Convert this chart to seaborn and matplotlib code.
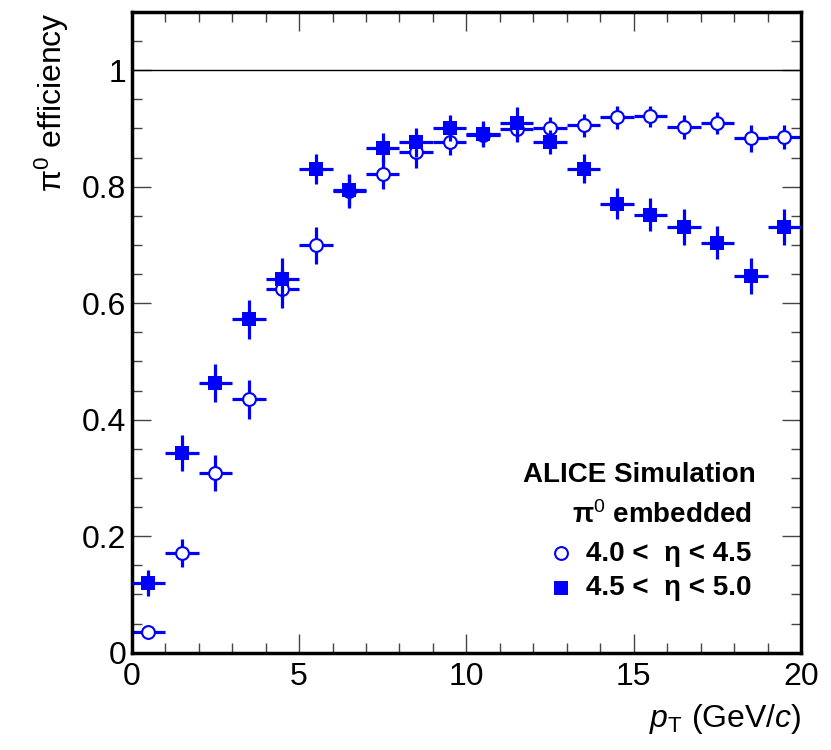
import numpy as np
import pandas as pd
import matplotlib
matplotlib.use("Agg")
import matplotlib.pyplot as plt
import seaborn as sns
from matplotlib.ticker import MultipleLocator

# bin centres (GeV/c), bin half width is 0.5
pt = [0.5, 1.5, 2.5, 3.5, 4.5, 5.5, 6.5, 7.5, 8.5, 9.5,
      10.5, 11.5, 12.5, 13.5, 14.5, 15.5, 16.5, 17.5, 18.5, 19.5]
pt_err = [0.5] * 20

# 4.0 < eta < 4.5 (open circles)
eff_low = [0.036, 0.171, 0.308, 0.435, 0.625, 0.699, 0.792, 0.822, 0.859, 0.876,
           0.889, 0.899, 0.900, 0.905, 0.919, 0.921, 0.902, 0.909, 0.883, 0.885]
err_low = [0.010, 0.024, 0.031, 0.033, 0.033, 0.031, 0.028, 0.026, 0.027, 0.022,
           0.020, 0.022, 0.020, 0.020, 0.020, 0.018, 0.021, 0.019, 0.023, 0.020]

# 4.5 < eta < 5.0 (filled squares)
eff_high = [0.120, 0.343, 0.463, 0.572, 0.642, 0.830, 0.794, 0.867, 0.876, 0.901,
            0.890, 0.910, 0.877, 0.831, 0.771, 0.752, 0.730, 0.704, 0.646, 0.731]
err_high = [0.022, 0.031, 0.033, 0.034, 0.035, 0.026, 0.028, 0.025, 0.025, 0.022,
            0.022, 0.026, 0.021, 0.025, 0.027, 0.029, 0.031, 0.029, 0.031, 0.031]

df = pd.DataFrame({"pt": pt, "low": eff_low, "high": eff_high})

sns.set_style("ticks")
plt.rcParams['font.family'] = ['Liberation Sans', 'DejaVu Sans']
plt.rcParams['mathtext.fontset'] = 'custom'
plt.rcParams['mathtext.rm'] = 'Liberation Sans'
plt.rcParams['mathtext.it'] = 'Liberation Sans:italic'
plt.rcParams['mathtext.bf'] = 'Liberation Sans:bold'
plt.rcParams['text.color'] = 'black'
plt.rcParams['axes.labelcolor'] = 'black'
plt.rcParams['xtick.color'] = '#444444'
plt.rcParams['ytick.color'] = '#444444'
plt.rcParams['xtick.labelcolor'] = 'black'
plt.rcParams['ytick.labelcolor'] = 'black'

blue = (0, 0, 1)

fig = plt.figure(figsize=(8.31, 7.5), dpi=100)
ax = fig.add_axes([0.1585, 0.1297, 0.8055, 0.8545])

ax.axhline(1.0, color='black', lw=1.0, zorder=1)

# open circles first, filled squares on top
ax.errorbar(pt, eff_low, xerr=pt_err, yerr=err_low, fmt='none',
            ecolor=blue, elinewidth=2.3, capsize=0, zorder=2)
sns.scatterplot(data=df, x="pt", y="low", ax=ax, marker='o', s=85,
                facecolor='white', edgecolor=blue, linewidth=1.5, zorder=3,
                label="4.0 <  η < 4.5")
ax.errorbar(pt, eff_high, xerr=pt_err, yerr=err_high, fmt='none',
            ecolor=blue, elinewidth=2.3, capsize=0, zorder=4)
sns.scatterplot(data=df, x="pt", y="high", ax=ax, marker='s', s=105,
                color=blue, edgecolor=blue, linewidth=0, zorder=5,
                label="4.5 <  η < 5.0")

ax.set_xlim(0, 20)
ax.set_ylim(0, 1.1)
ax.xaxis.set_major_locator(MultipleLocator(5))
ax.xaxis.set_minor_locator(MultipleLocator(1))
ax.yaxis.set_minor_locator(MultipleLocator(0.05))
ax.set_yticks([0, 0.2, 0.4, 0.6, 0.8, 1.0])
ax.set_yticklabels(['0', '0.2', '0.4', '0.6', '0.8', '1'])
ax.tick_params(which='both', direction='in', top=True, right=True,
               labelsize=23, width=1.0)
ax.tick_params(which='major', length=14)
ax.tick_params(axis='x', which='major', pad=7)
ax.tick_params(axis='y', which='major', pad=4)
ax.tick_params(which='minor', length=7)
for sp in ax.spines.values():
    sp.set_linewidth(2.5)
    sp.set_color('black')

ax.set_xlabel(r"$p_{\rm T}$ (GeV/$c$)", fontsize=23, loc='right', labelpad=7)
ax.set_ylabel("π$^{0}$ efficiency", fontsize=23, loc='top', labelpad=8)

ax.text(0.932, 0.277, "ALICE Simulation", transform=ax.transAxes,
        ha='right', va='center', fontsize=20, fontweight='bold')
ax.text(0.927, 0.2145, "π$^{0}$ embedded", transform=ax.transAxes,
        ha='right', va='center', fontsize=20, fontweight='bold')

ax.legend(loc='center left', bbox_to_anchor=(0.6, 0.128), frameon=False,
          prop={'size': 20, 'weight': 'bold'}, handletextpad=0.3,
          labelspacing=0.3, handlelength=1.2, borderaxespad=0)

fig.savefig("out.png", dpi=100)
